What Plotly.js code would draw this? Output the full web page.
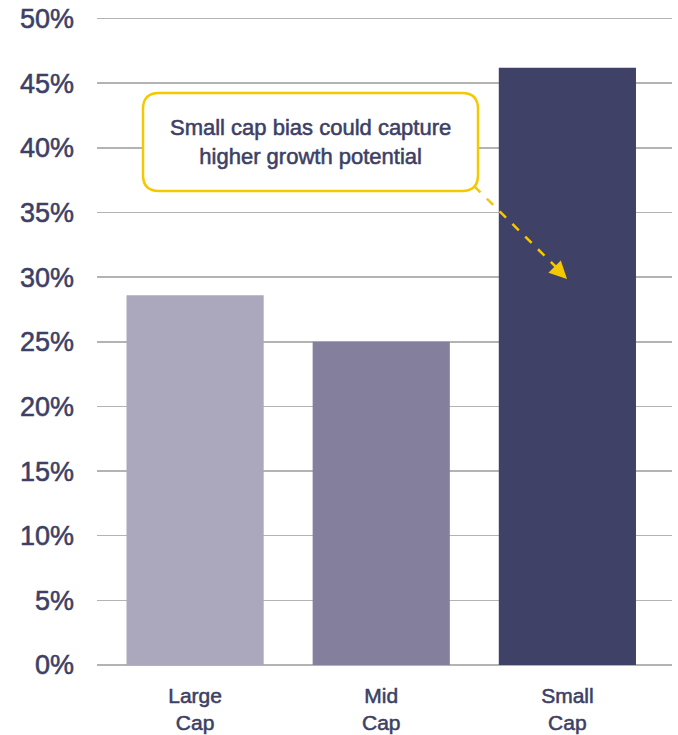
<!DOCTYPE html>
<html>
<head>
<meta charset="utf-8">
<script src="https://cdn.plot.ly/plotly-3.0.1.min.js"></script>
<style>
html,body{margin:0;padding:0;background:#fff;}
#chart{width:678px;height:735px;}
#chart svg text{stroke:#3d3f66;stroke-width:0.55px;}
</style>
</head>
<body>
<div id="chart"></div>
<script>
const categories = ["Large<br>Cap", "Mid<br>Cap", "Small<br>Cap"];
const values = [28.6, 25.0, 46.2];
const barColors = ["#aba7bc", "#847f9c", "#3f4166"];
const yTickVals = [0, 5, 10, 15, 20, 25, 30, 35, 40, 45, 50];
const yTickText = ["0%", "5%", "10%", "15%", "20%", "25%", "30%", "35%", "40%", "45%", "50%"];
const calloutText = "Small cap bias could capture<br>higher growth potential";

const W = 678, H = 735;
const margin = {l: 97, r: 6, t: 16, b: 70};
const yMax = 50.2;
const pw = W - margin.l - margin.r, ph = H - margin.t - margin.b;
function px(x){ return (x - margin.l) / pw; }
function py(y){ return (H - margin.b - y) / ph; }

// rounded callout box (pixel layout -> paper)
const bx0 = 143, bx1 = 478, by0 = 93, by1 = 191, r = 16;
const rx = r / pw, ry = r / ph;
const X0 = px(bx0), X1 = px(bx1), Yt = py(by0), Yb = py(by1);
const boxPath = `M ${X0+rx},${Yt} L ${X1-rx},${Yt} Q ${X1},${Yt} ${X1},${Yt-ry} L ${X1},${Yb+ry} Q ${X1},${Yb} ${X1-rx},${Yb} L ${X0+rx},${Yb} Q ${X0},${Yb} ${X0},${Yb+ry} L ${X0},${Yt-ry} Q ${X0},${Yt} ${X0+rx},${Yt} Z`;

const yellow = "#f5c900";
const textColor = "#3d3f66";
const fontFam = "Liberation Sans, Arial, Helvetica, sans-serif";

const data = [{
  type: "bar",
  x: categories,
  y: values,
  marker: {color: barColors},
  hoverinfo: "none"
}];

const layout = {
  width: W, height: H,
  margin: margin,
  paper_bgcolor: "#fff",
  plot_bgcolor: "#fff",
  showlegend: false,
  bargap: 0.263,
  font: {family: fontFam, color: textColor},
  xaxis: {
    type: "category",
    range: [-0.527, 2.562],
    showgrid: false,
    showline: false,
    zeroline: false,
    ticks: "",
    tickfont: {size: 21, color: textColor},
    ticklabelstandoff: 16
  },
  yaxis: {
    range: [0, yMax],
    tickvals: yTickVals,
    ticktext: yTickText,
    showgrid: true,
    gridcolor: "#b3b3b3",
    gridwidth: 1.5,
    zeroline: true,
    zerolinecolor: "#b3b3b3",
    zerolinewidth: 1.5,
    showline: false,
    ticks: "",
    tickfont: {size: 27, color: textColor},
    ticklabelstandoff: 22
  },
  shapes: [
    {type: "path", xref: "paper", yref: "paper", path: boxPath,
     line: {color: yellow, width: 2.5}, fillcolor: "#ffffff", layer: "above"},
    {type: "line", xref: "paper", yref: "paper",
     x0: px(474), y0: py(186), x1: px(557), y1: py(268),
     line: {color: yellow, width: 2.5, dash: "dash"}, layer: "above"}
  ],
  annotations: [
    {xref: "paper", yref: "paper", x: (X0+X1)/2, y: (Yt+Yb)/2,
     text: calloutText, showarrow: false, align: "center",
     font: {size: 22, color: textColor, family: fontFam},
     xanchor: "center", yanchor: "middle"},
    {xref: "paper", yref: "paper", x: px(567), y: py(279),
     ax: -12, ay: -12, text: "", showarrow: true,
     arrowhead: 2, arrowsize: 1.4, arrowwidth: 2.5, arrowcolor: yellow}
  ]
};

Plotly.newPlot("chart", data, layout, {displayModeBar: false, staticPlot: true});
</script>
</body>
</html>
